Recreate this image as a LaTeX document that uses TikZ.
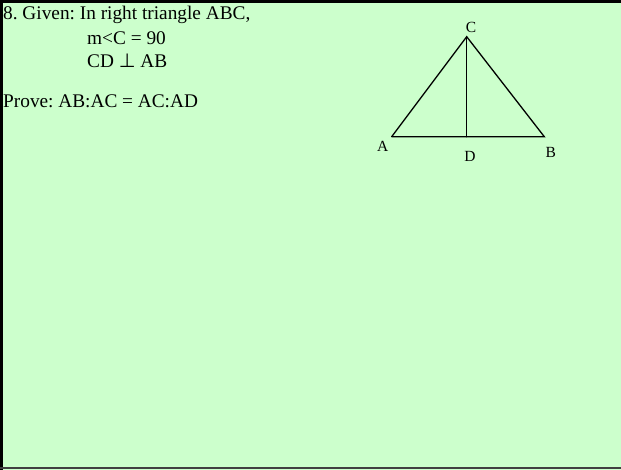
\documentclass[tikz,border=0pt]{standalone}
\usepackage{fontspec}
\setmainfont{Liberation Serif}
\newfontfamily\symfnt{DejaVu Sans}
\definecolor{bgGreen}{RGB}{204,255,204}
\begin{document}
\frenchspacing
\begin{tikzpicture}[x=1pt,y=-1pt,
  txt/.style={anchor=base west,inner sep=0pt,font=\fontsize{19.3}{22}\selectfont},
  lbl/.style={inner sep=0pt,font=\fontsize{15.5}{17}\selectfont},
  edge/.style={line width=1.3pt,line cap=round}]
\useasboundingbox (0,0) rectangle (621,470);
\fill[bgGreen] (0,0) rectangle (621,470);
\draw[line width=3pt] (0,1.5) -- (621,1.5);
\draw[line width=3pt] (1.5,0) -- (1.5,470);
\draw[line width=2pt,black!75] (0,468) -- (621,468);
% text
\node[txt] (t1) at (3,20) {8. Given: In right triangle ABC,};
\node[txt] (t2) at (87,45) {m<C = 90};
\node[txt] (t3) at (87,68) {CD {\symfnt ⊥} AB};
\node[txt] (t4) at (3,108) {Prove: AB:AC = AC:AD};
% triangle
\coordinate (A) at (391.7,136.7);
\coordinate (B) at (544.3,136.7);
\coordinate (C) at (466.7,36.7);
\coordinate (D) at (466.7,136.7);
\draw[edge] (A) -- (C) -- (B) -- (A);
\draw[edge] (C) -- (D);
\node[lbl] (lA) at (382.7,146.5) {A};
\node[lbl] (lB) at (550.7,152.5) {B};
\node[lbl] (lC) at (471,27) {C};
\node[lbl] (lD) at (470,156.5) {D};
\end{tikzpicture}
\end{document}
